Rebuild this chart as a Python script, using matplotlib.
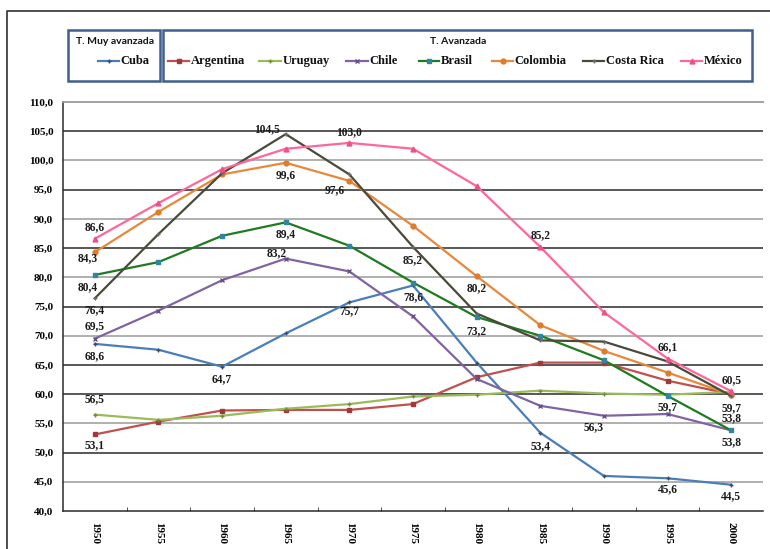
import matplotlib
matplotlib.use("Agg")
import matplotlib.pyplot as plt
from matplotlib.patches import Rectangle
from matplotlib.lines import Line2D

years = ["1950", "1955", "1960", "1965", "1970", "1975", "1980", "1985", "1990", "1995", "2000"]

cuba = [68.6, 67.6, 64.7, 70.4, 75.7, 78.6, 65.4, 53.4, 46.0, 45.6, 44.5]
argentina = [53.1, 55.3, 57.2, 57.3, 57.3, 58.3, 62.9, 65.4, 65.4, 62.3, 60.0]
uruguay = [56.5, 55.6, 56.3, 57.5, 58.3, 59.6, 59.9, 60.6, 60.1, 59.9, 60.4]
chile = [69.5, 74.3, 79.5, 83.2, 81.0, 73.3, 62.6, 58.0, 56.3, 56.6, 53.8]
brasil = [80.4, 82.6, 87.1, 89.4, 85.4, 79.1, 73.2, 70.0, 65.8, 59.7, 53.8]
colombia = [84.3, 91.2, 97.6, 99.6, 96.5, 88.8, 80.2, 71.8, 67.4, 63.7, 59.9]
costa_rica = [76.4, 87.4, 97.8, 104.5, 97.6, 85.2, 73.8, 69.2, 69.0, 65.6, 59.7]
mexico = [86.6, 92.7, 98.5, 102.0, 103.0, 102.0, 95.6, 85.2, 74.0, 66.1, 60.5]

y_ticks = [40, 45, 50, 55, 60, 65, 70, 75, 80, 85, 90, 95, 100, 105, 110]

# name, values, line colour, marker, marker face colour
series = [
    ("Cuba", cuba, "#4A7EBB", "+", "#3A4A6A"),
    ("Argentina", argentina, "#C0504D", "s", "#A03A38"),
    ("Uruguay", uruguay, "#9BBB59", "+", "#6E8A3A"),
    ("Chile", chile, "#8064A2", "x", "#6A4E8C"),
    ("Brasil", brasil, "#1E7B1E", "s", "#31859C"),
    ("Colombia", colombia, "#E8883A", "o", "#E07B2A"),
    ("Costa Rica", costa_rica, "#4A4A3A", "+", "#6A6A6A"),
    ("México", mexico, "#FF6699", "^", "#F0508A"),
]
by_name = {s[0]: s for s in series}

# value labels: (series, year index, dx px, dy px)
labels = [
    ("México", 0, 0, 12), ("Colombia", 0, -7, -6), ("Brasil", 0, -7, -12),
    ("Costa Rica", 0, 0, -12), ("Chile", 0, 0, 12), ("Cuba", 0, 0, -12),
    ("Cuba", 2, 0, -12), ("Uruguay", 0, 0, 15), ("Argentina", 0, 0, -11),
    ("Costa Rica", 3, -19, 5), ("México", 4, 0, 11), ("Colombia", 3, 0, -12),
    ("Costa Rica", 4, -15, -16), ("Brasil", 3, 0, -12), ("Chile", 3, -9, 5),
    ("Cuba", 4, 0, -9), ("Costa Rica", 5, 0, -13), ("Cuba", 5, 0, -12),
    ("Colombia", 6, 0, -12), ("México", 7, 0, 12), ("Brasil", 6, 0, -14),
    ("Cuba", 7, 0, -13), ("Chile", 8, -10, -11), ("México", 9, 0, 11),
    ("Brasil", 9, 0, -11), ("Cuba", 9, 0, -11), ("México", 10, 0, 11),
    ("Costa Rica", 10, 0, -12), ("Chile", 10, 0, 12), ("Brasil", 10, 0, -12),
    ("Cuba", 10, 0, -11),
]

W, H = 770, 549
fig = plt.figure(figsize=(W / 100, H / 100), dpi=100)
fig.patch.set_facecolor("white")

serif = ["Liberation Serif", "DejaVu Serif"]


def fx(px):
    return px / W


def fy(py):
    return 1 - py / H


# outer frame (top and left edges)
fig.add_artist(Line2D([fx(7), fx(7), 1.0], [0.0, fy(11), fy(11)],
                      transform=fig.transFigure, color="#404040",
                      linewidth=1.3))

ax = fig.add_axes([fx(63), fy(511), fx(763) - fx(63), fy(102) - fy(511)])
x = list(range(len(years)))

for name, vals, col, mk, mfc in series:
    ax.plot(x, vals, color=col, linewidth=1.6, marker=mk, markersize=3.5,
            markerfacecolor=mfc, markeredgecolor=mfc, markeredgewidth=1.0,
            zorder=3)

for name, idx, dx, dy in labels:
    v = by_name[name][1][idx]
    ax.annotate(f"{v:.1f}".replace(".", ","), (idx, v), xytext=(dx, dy),
                textcoords="offset pixels", ha="center", va="center",
                fontsize=8.3, fontweight="bold", family=serif, color="#1A1A1A",
                zorder=5)

ax.set_xlim(-0.5, len(years) - 0.5)
ax.set_ylim(40, 110)
ax.set_yticks(y_ticks)
ax.set_yticklabels([f"{t:.1f}".replace(".", ",") for t in y_ticks],
                   fontsize=8, fontweight="bold", family=serif)
ax.tick_params(axis="y", length=0, pad=7)
ax.set_xticks(x)
ax.set_xticklabels(years, rotation=-90, fontsize=8, fontweight="bold",
                   family=serif)
ax.tick_params(axis="x", length=0, pad=8)
ax.set_xticks([i + 0.5 for i in x[:-1]], minor=True)
ax.tick_params(axis="x", which="minor", direction="in", length=3,
               color="#333333")

dark = {105, 95, 85, 75, 65, 60, 50}
for t in y_ticks[1:-1]:
    ax.axhline(t, color="#2A2A2A" if t in dark else "#9A9A9A",
               linewidth=1.1, zorder=1)

for side in ("left", "bottom"):
    ax.spines[side].set_color("#2A2A2A")
    ax.spines[side].set_linewidth(1.1)
ax.spines["top"].set_color("#9A9A9A")
ax.spines["top"].set_linewidth(1.3)
ax.spines["right"].set_visible(False)

# legend boxes
box_col = "#3F5F8F"
for x0, x1 in ((68, 160), (163, 752)):
    fig.add_artist(Rectangle((fx(x0), fy(81)), fx(x1) - fx(x0), fy(30) - fy(81),
                             transform=fig.transFigure, fill=False,
                             edgecolor=box_col, linewidth=1.8))

title_font = ["Lato", "DejaVu Sans"]
fig.text(fx(115), fy(41), "T. Muy avanzada", ha="center", va="center",
         fontsize=7.5, fontweight="bold", family=title_font, color="#111111")
fig.text(fx(458), fy(41), "T. Avanzada", ha="center", va="center",
         fontsize=7.5, fontweight="bold", family=title_font, color="#111111")

legend_pos = {
    "Cuba": (98, 119), "Argentina": (168, 189), "Uruguay": (259, 281),
    "Chile": (346, 368), "Brasil": (419, 439), "Colombia": (492, 513),
    "Costa Rica": (583, 604), "México": (681, 702),
}
for name, vals, col, mk, mfc in series:
    a, b = legend_pos[name]
    fig.add_artist(Line2D([fx(a), fx(b)], [fy(61), fy(61)],
                          transform=fig.transFigure, color=col, linewidth=1.6))
    fig.add_artist(Line2D([fx((a + b) / 2)], [fy(61)], transform=fig.transFigure,
                          marker=mk, markersize=3.5, markerfacecolor=mfc,
                          markeredgecolor=mfc, markeredgewidth=1.0,
                          linestyle="none"))
    fig.text(fx(b + 1.5), fy(61), name, ha="left", va="center", fontsize=9,
             fontweight="bold", family=serif, color="#111111")

fig.savefig("out.png", dpi=100, facecolor="white")
